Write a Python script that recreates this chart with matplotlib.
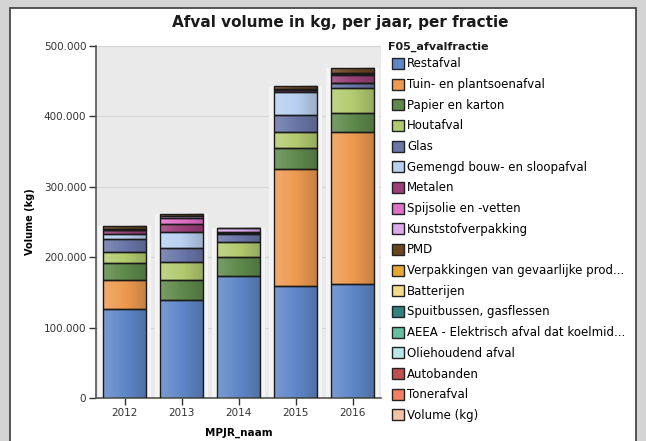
import numpy as np
import matplotlib
matplotlib.use("Agg")
import matplotlib.pyplot as plt
from matplotlib.patches import Patch, Rectangle
from matplotlib.ticker import FuncFormatter

years = ["2012", "2013", "2014", "2015", "2016"]

fracties = [
    "Restafval", "Tuin- en plantsoenafval", "Papier en karton", "Houtafval",
    "Glas", "Gemengd bouw- en sloopafval", "Metalen", "Spijsolie en -vetten",
    "Kunststofverpakking", "PMD", "Verpakkingen van gevaarlijke prod...",
    "Batterijen", "Spuitbussen, gasflessen",
    "AEEA - Elektrisch afval dat koelmid...", "Oliehoudend afval",
    "Autobanden", "Tonerafval", "Volume (kg)",
]

colors = [
    "#5f87c8", "#ee9a50", "#5f8a4c", "#b3cb70", "#6a76a8", "#b9d1f0",
    "#9a3f78", "#e070c8", "#dcaaec", "#6b4420", "#e6a834", "#f3da88",
    "#2f8080", "#66c0a0", "#b8e8e4", "#c05050", "#f08060", "#f4c2a4",
]

# kg per jaar (2012..2016)
restafval  = [127000, 139200, 174000, 159000, 161400]
tuin       = [40000, 0, 0, 166000, 216000]
papier     = [25000, 28400, 25600, 29800, 27000]
hout       = [15500, 25100, 21300, 23700, 36400]
glas       = [18000, 20700, 12000, 23700, 6200]
gemengd    = [7000, 22700, 1500, 33000, 1000]
metalen    = [5500, 10900, 2000, 2500, 11000]
spijsolie  = [1000, 8500, 0, 500, 1000]
kunststof  = [1500, 3500, 4500, 500, 1000]
pmd        = [4500, 3000, 1000, 5000, 8000]
zero = [0, 0, 0, 0, 0]

series = [restafval, tuin, papier, hout, glas, gemengd, metalen, spijsolie,
          kunststof, pmd, zero, zero, zero, zero, zero, zero, zero, zero]

W, H = 646, 441
fig = plt.figure(figsize=(W / 100, H / 100), dpi=100, facecolor="#d4d4d4")

# white panel with border
fig.patches.append(Rectangle((10 / W, -0.05), 626 / W, 1.05 - 8 / H,
                             transform=fig.transFigure, facecolor="white",
                             edgecolor="#3a3a3a", linewidth=1.2, zorder=-5))

ax = fig.add_axes([96 / W, 43 / H, 285 / W, 352 / H])
ax.set_facecolor("#eaeaea")

x = np.arange(len(years))
bw = 0.77
totals = np.sum(np.array(series), axis=0)

# halo behind bars
ax.bar(x, totals, width=0.93, color="#f4f4f4", zorder=1)

bottom = np.zeros(len(years))
for vals, c in zip(series, colors):
    vals = np.array(vals, dtype=float)
    m = vals > 0
    ax.bar(x[m], vals[m], bw, bottom=bottom[m], color=c, zorder=2)
    bottom += vals

# gradient shading on bars (light left, dark right)
grad = np.zeros((1, 64, 4))
t = np.linspace(0, 1, 64)
grad[0, :, :3] = np.where(t[:, None] < 0.5, 1.0, 0.0)
grad[0, :, 3] = np.abs(t - 0.5) * 0.34
for xi, tot in zip(x, totals):
    ax.imshow(grad, extent=(xi - bw / 2, xi + bw / 2, 0, tot), aspect="auto",
              zorder=3, interpolation="bilinear")

bottom = np.zeros(len(years))
for vals in series:
    vals = np.array(vals, dtype=float)
    m = vals > 0
    ax.bar(x[m], vals[m], bw, bottom=bottom[m], fill=False,
           edgecolor="#1a1a1a", linewidth=1.0, zorder=4)
    bottom += vals

ax.set_xlim(-0.5, len(years) - 0.5)
ax.set_ylim(0, 500000)
ax.set_yticks(np.arange(0, 500001, 100000))
ax.yaxis.set_major_formatter(FuncFormatter(lambda v, p: f"{int(v):,}".replace(",", ".")))
ax.set_xticks(x)
ax.set_xticklabels(years)
ax.grid(axis="y", color="#d6d6d6", linewidth=0.8, zorder=0)
ax.set_axisbelow(True)
for s in ["top", "right"]:
    ax.spines[s].set_visible(False)
for s in ["left", "bottom"]:
    ax.spines[s].set_color("#555555")
    ax.spines[s].set_linewidth(1.2)
ax.tick_params(labelsize=7.5, colors="#333333", length=5, width=1, pad=2)

ax.set_ylabel("Volume (kg)", fontsize=7, fontweight="bold", labelpad=6)
ax.set_xlabel("MPJR_naam", fontsize=7.5, fontweight="bold", labelpad=7)

fig.text(340 / W, 1 - 22 / H, "Afval volume in kg, per jaar, per fractie",
         ha="center", va="center", fontsize=11, fontweight="bold",
         color="#1a1a1a")

# legend title placed separately
fig.text(388 / W, 1 - 47 / H, "F05_afvalfractie", ha="left", va="center",
         fontsize=8, fontweight="bold", color="#1a1a1a")

handles = [Patch(facecolor=c, edgecolor="#222222", linewidth=1) for c in colors]
leg = fig.legend(handles, fracties, loc="upper left",
                 bbox_to_anchor=(386 / W, 1 - 51.5 / H), frameon=False,
                 fontsize=8.5,
                 handlelength=1.0, handleheight=1.05, handletextpad=0.3,
                 labelspacing=0.65, borderpad=0)

plt.savefig("out.png", dpi=100, facecolor=fig.get_facecolor())
